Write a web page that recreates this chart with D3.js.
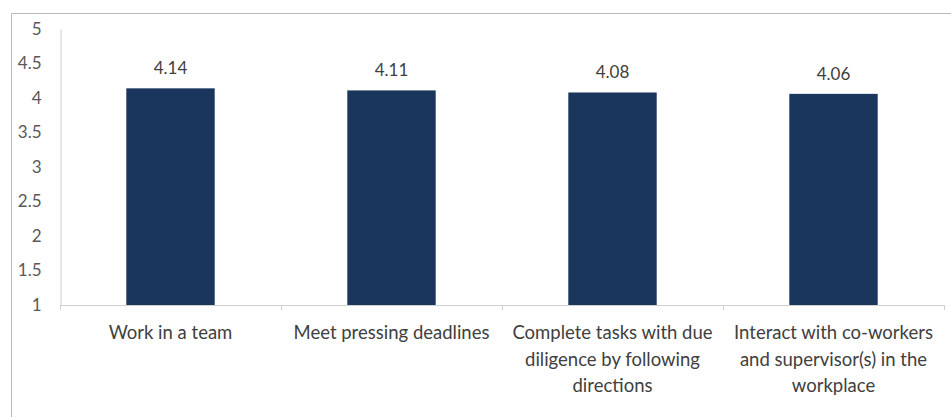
<!DOCTYPE html>
<html>
<head>
<meta charset="utf-8">
<script src="https://cdn.jsdelivr.net/npm/d3@7"></script>
<style>
  html, body { margin: 0; padding: 0; background: #fff; }
  svg { display: block; }
</style>
</head>
<body>
<svg id="chart" width="951" height="417"></svg>
<script>
// Chart data
const categories = [
  ["Work in a team"],
  ["Meet pressing deadlines"],
  ["Complete tasks with due", "diligence by following", "directions"],
  ["Interact with co-workers", "and supervisor(s) in the", "workplace"]
];
const values = [4.14, 4.11, 4.08, 4.06];
const yTicks = [1, 1.5, 2, 2.5, 3, 3.5, 4, 4.5, 5];

const W = 951, H = 417;
const margin = { left: 60, right: 7, top: 29, bottom: 112 };
const font = "Lato, 'Open Sans', sans-serif";

const svg = d3.select("#chart");

// Chart frame
svg.append("path")
  .attr("d", `M11.5,${H} V13.5 H${W}`)
  .attr("fill", "none")
  .attr("stroke", "#b8b8b8")
  .attr("stroke-width", 1);

const x = d3.scaleBand()
  .domain(d3.range(categories.length))
  .range([margin.left, W - margin.right])
  .paddingInner(0.6)
  .paddingOuter(0.3);

const y = d3.scaleLinear()
  .domain([1, 5])
  .range([H - margin.bottom, margin.top]);

// Y axis
const yAxis = svg.append("g")
  .attr("transform", `translate(${margin.left + 0.5},0)`)
  .call(d3.axisLeft(y).tickValues(yTicks).tickSize(0).tickPadding(19)
    .tickFormat(d => String(d)));
yAxis.select(".domain").attr("stroke", "#d0d0d0");
yAxis.selectAll("text")
  .attr("fill", "#595959")
  .style("font-family", font)
  .style("font-size", "17px");

// Bars
svg.append("g").selectAll("rect")
  .data(values)
  .join("rect")
  .attr("x", (d, i) => x(i))
  .attr("y", d => y(d))
  .attr("width", x.bandwidth())
  .attr("height", d => y(1) - y(d))
  .attr("fill", "#1b365d");

// Value labels
svg.append("g").selectAll("text")
  .data(values)
  .join("text")
  .attr("x", (d, i) => x(i) + x.bandwidth() / 2)
  .attr("y", d => y(d) - 14)
  .attr("text-anchor", "middle")
  .attr("fill", "#404040")
  .style("font-family", font)
  .style("font-size", "17px")
  .text(d => d.toFixed(2));

// X axis with category boundary ticks
const x0 = margin.left, x1 = W - margin.right;
const step = x.step();
const xAxisG = svg.append("g");
xAxisG.append("line")
  .attr("x1", x0).attr("x2", x1)
  .attr("y1", y(1) + 0.5).attr("y2", y(1) + 0.5)
  .attr("stroke", "#d0d0d0");
xAxisG.selectAll("line.tick")
  .data(d3.range(categories.length + 1))
  .join("line")
  .attr("class", "tick")
  .attr("x1", i => Math.round(x(0) - step * x.paddingOuter() + i * step) + 0.5)
  .attr("x2", i => Math.round(x(0) - step * x.paddingOuter() + i * step) + 0.5)
  .attr("y1", y(1))
  .attr("y2", y(1) + 5)
  .attr("stroke", "#d0d0d0");

// Category labels
const labels = svg.append("g").selectAll("text")
  .data(categories)
  .join("text")
  .attr("x", (d, i) => x(i) + x.bandwidth() / 2)
  .attr("y", y(1) + 34)
  .attr("text-anchor", "middle")
  .attr("fill", "#404040")
  .style("font-family", font)
  .style("font-size", "18.5px");
labels.selectAll("tspan")
  .data(d => d)
  .join("tspan")
  .attr("x", function () { return this.parentNode.getAttribute("x"); })
  .attr("dy", (d, i) => i === 0 ? 0 : 26.5)
  .text(d => d);
</script>
</body>
</html>
